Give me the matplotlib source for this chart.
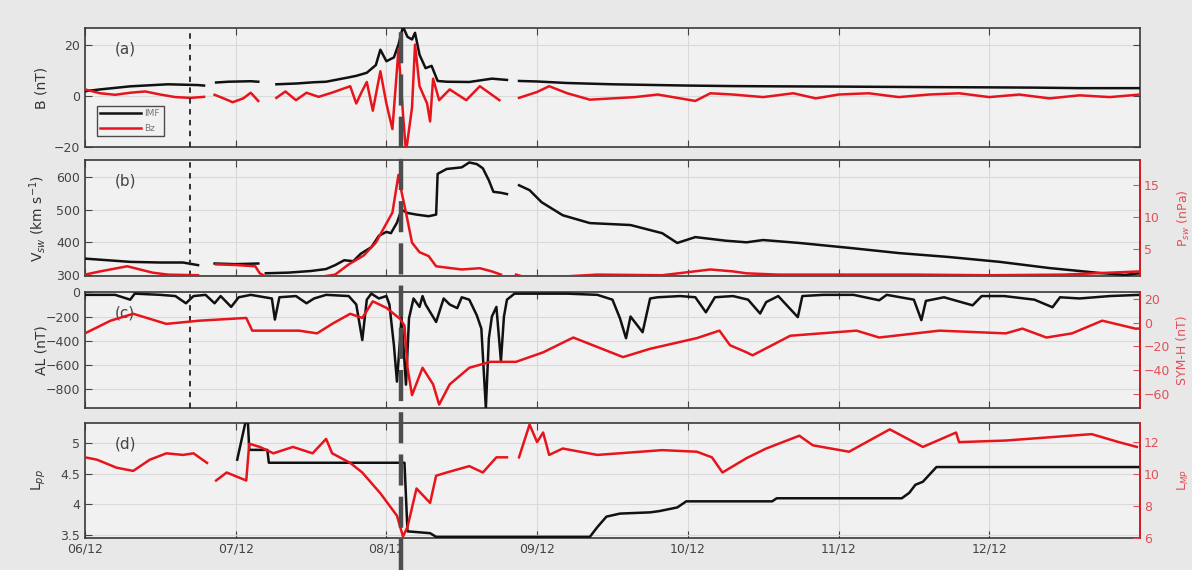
import numpy as np
import matplotlib
matplotlib.use('Agg')
import matplotlib.pyplot as plt
from matplotlib.transforms import blended_transform_factory
from matplotlib.lines import Line2D

nan = np.nan

# ---------------- data (time in days since 06/12 00:00) ----------------
day_ticks = [0, 1, 2, 3, 4, 5, 6]
day_labels = ['06/12', '07/12', '08/12', '09/12', '10/12', '11/12', '12/12']

# (a) IMF magnitude and Bz (nT)
imf_t = [0.0, 0.1, 0.3, 0.55, 0.75, 0.79, 0.8, 0.87, 0.95, 1.1, 1.15, 1.17, 1.27, 1.4, 1.52, 1.6,
         1.75, 1.8, 1.87, 1.93, 1.96, 2.0, 2.05, 2.08, 2.11, 2.14, 2.17, 2.19, 2.22, 2.26, 2.3, 2.34,
         2.4, 2.55, 2.7, 2.8, 2.83, 2.88, 3.0, 3.2, 3.5, 3.8, 4.0, 4.3, 4.6, 5.0, 5.3, 5.6, 6.0, 6.3,
         6.6, 7.0]
imf_b = [1.8, 2.5, 3.7, 4.5, 4.2, 4.0, nan, 5.2, 5.5, 5.7, 5.5, nan, 4.5, 4.8, 5.3, 5.5,
         7.2, 7.8, 9.0, 12.0, 18.0, 13.5, 15.0, 20.0, 27.0, 23.0, 22.0, 24.6, 16.0, 10.8, 11.7, 5.8,
         5.5, 5.4, 6.7, 6.2, nan, 5.8, 5.6, 5.0, 4.5, 4.2, 4.0, 3.8, 3.7, 3.6, 3.5, 3.4, 3.3, 3.2,
         3.0, 3.0]

bz_t = [0.0, 0.1, 0.2, 0.3, 0.4, 0.5, 0.6, 0.7, 0.79, 0.8, 0.86, 0.92, 0.98, 1.05, 1.1, 1.15, 1.17,
        1.27, 1.33, 1.4, 1.47, 1.55, 1.64, 1.7, 1.76, 1.8, 1.84, 1.87, 1.91, 1.96, 2.0, 2.04, 2.08,
        2.11, 2.13, 2.17, 2.19, 2.22, 2.27, 2.29, 2.31, 2.35, 2.42, 2.53, 2.62, 2.75, 2.78, 2.88,
        3.0, 3.08, 3.2, 3.35, 3.5, 3.65, 3.8, 3.95, 4.05, 4.15, 4.3, 4.5, 4.7, 4.85, 5.0, 5.2, 5.4,
        5.6, 5.8, 6.0, 6.2, 6.4, 6.6, 6.8, 7.0]
bz_v = [2.5, 1.0, 0.4, 1.2, 1.7, 0.5, -0.5, -0.8, -0.4, nan, 0.4, -1.0, -2.5, -1.0, 1.2, -2.0, nan,
        -0.8, 1.7, -1.7, 1.2, -0.4, 1.25, 2.5, 3.75, -3.0, 2.0, 5.4, -5.8, 9.6, -3.0, -13.0, 18.0,
        -7.0, -22.0, -4.6, 20.0, 3.75, -3.0, -10.0, 6.7, -1.7, 2.5, -1.7, 3.75, -1.7, nan, -0.8,
        1.5, 3.75, 1.0, -1.5, -1.0, -0.5, 0.5, -1.0, -2.0, 1.0, 0.5, -0.5, 1.0, -1.0, 0.5, 1.0, -0.5,
        0.5, 1.0, -0.5, 0.5, -1.0, 0.2, -0.5, 0.5]

# (b) solar wind speed (km/s) and dynamic pressure (nPa)
vsw_t = [0.0, 0.15, 0.3, 0.5, 0.65, 0.75, 0.78, 0.86, 1.0, 1.15, 1.17, 1.2, 1.35, 1.5, 1.6, 1.66,
         1.72, 1.78, 1.83, 1.9, 1.95, 2.0, 2.03, 2.07, 2.1, 2.14, 2.2, 2.28, 2.33, 2.34, 2.4, 2.5,
         2.55, 2.6, 2.64, 2.68, 2.71, 2.76, 2.8, 2.83, 2.88, 2.95, 3.03, 3.17, 3.35, 3.62, 3.83,
         3.93, 4.05, 4.25, 4.39, 4.5, 4.74, 5.07, 5.4, 5.73, 6.07, 6.4, 6.73, 6.9, 7.0]
vsw_v = [350, 345, 340, 338, 338, 330, nan, 335, 333, 335, nan, 305, 307, 312, 318, 330,
         345, 342, 365, 385, 420, 432, 428, 460, 500, 490, 485, 480, 485, 610, 625, 630,
         645, 640, 627, 590, 555, 552, 548, nan, 575, 560, 523, 483, 459, 453, 428,
         398, 416, 405, 400, 407, 398, 383, 367, 355, 340, 321, 306, 300, 305]

psw_t = [0.0, 0.1, 0.28, 0.45, 0.55, 0.75, 0.78, 0.87, 1.0, 1.13, 1.16, 1.2, 1.4, 1.55, 1.66, 1.75,
         1.85, 1.93, 2.0, 2.04, 2.08, 2.1, 2.13, 2.17, 2.22, 2.28, 2.33, 2.5, 2.62, 2.7, 2.76, 2.8,
         2.86, 2.95, 3.4, 3.83, 4.15, 4.3, 4.39, 4.6, 5.0, 5.5, 6.0, 6.5, 6.8, 7.0]
psw_v = [1.0, 1.5, 2.3, 1.3, 1.0, 0.9, nan, 2.6, 2.5, 2.3, 1.2, 0.7, 0.6, 0.6, 1.0, 2.6,
         4.0, 6.0, 9.0, 10.7, 16.6, 14.0, 10.7, 6.0, 4.5, 3.9, 2.3, 1.8, 2.0, 1.5, 1.0, nan,
         1.0, 0.4, 1.0, 0.9, 1.8, 1.5, 1.2, 1.0, 1.0, 1.0, 0.9, 1.0, 1.3, 1.5]

# (c) AL (nT) and SYM-H (nT)
al_t = [0.0, 0.2, 0.3, 0.33, 0.5, 0.6, 0.67, 0.72, 0.8, 0.86, 0.9, 0.97, 1.02, 1.1, 1.24, 1.26,
        1.29, 1.4, 1.47, 1.52, 1.6, 1.75, 1.8, 1.84, 1.87, 1.9, 1.95, 2.0, 2.02, 2.05, 2.07, 2.09,
        2.1, 2.13, 2.15, 2.18, 2.22, 2.24, 2.26, 2.33, 2.38, 2.42, 2.47, 2.5, 2.55, 2.6, 2.63,
        2.66, 2.68, 2.7, 2.73, 2.76, 2.78, 2.8, 2.85, 3.0, 3.2, 3.4, 3.5, 3.55, 3.59, 3.62, 3.7,
        3.75, 3.8, 3.95, 4.05, 4.12, 4.18, 4.3, 4.4, 4.48, 4.52, 4.6, 4.73, 4.76, 4.9, 5.1, 5.27,
        5.32, 5.5, 5.55, 5.58, 5.7, 5.89, 5.95, 6.1, 6.3, 6.42, 6.47, 6.6, 6.8, 7.0]
al_v = [-20, -20, -60, -10, -20, -30, -90, -30, -20, -90, -30, -120, -40, -20, -50, -225,
        -40, -30, -90, -50, -20, -30, -100, -395, -60, -10, -50, -30, -100, -440, -740, -400,
        -200, -765, -215, -50, -120, -30, -100, -245, -50, -100, -130, -40, -60, -190, -300,
        -960, -380, -200, -120, -570, -200, -60, -10, -10, -10, -20, -60, -215, -380, -200, -330,
        -50, -40, -30, -40, -165, -40, -30, -60, -175, -80, -30, -205, -30, -20, -20, -65,
        -20, -60, -230, -70, -40, -107, -30, -30, -60, -123, -40, -50, -30, -20]

symh_t = [0.0, 0.17, 0.32, 0.54, 0.76, 1.07, 1.11, 1.42, 1.54, 1.64, 1.76, 1.84, 1.91, 2.0, 2.09,
          2.12, 2.14, 2.17, 2.24, 2.31, 2.35, 2.42, 2.55, 2.69, 2.86, 3.04, 3.24, 3.57, 3.75, 4.06,
          4.21, 4.28, 4.39, 4.43, 4.68, 5.12, 5.27, 5.67, 6.11, 6.22, 6.38, 6.55, 6.75, 6.97, 7.0]
symh_v = [-9, 1.7, 7.5, -1, 1.7, 4, -6.7, -6.7, -9, -1, 7.5, 4, 18, 12.5, 3.3,
          -2.5, -38, -61, -38, -52, -69, -52, -38, -33, -33, -25, -12.5, -29, -22, -13,
          -6.7, -19, -25, -27.5, -11, -6.7, -12.5, -6.7, -9, -5, -12.5, -9, 1.7, -5, -5]

# (d) plasmapause Lpp and magnetopause Lmp
lmp_t = [0.0, 0.08, 0.21, 0.32, 0.43, 0.54, 0.65, 0.72, 0.81, 0.84, 0.87, 0.94, 1.07, 1.09, 1.16,
         1.25, 1.38, 1.51, 1.60, 1.64, 1.76, 1.84, 1.96, 2.07, 2.11, 2.14, 2.20, 2.29, 2.33, 2.40,
         2.55, 2.64, 2.73, 2.80, 2.84, 2.88, 2.95, 3.0, 3.04, 3.08, 3.17, 3.40, 3.83, 4.06, 4.16,
         4.23, 4.39, 4.52, 4.74, 4.83, 5.07, 5.34, 5.56, 5.78, 5.80, 6.11, 6.68, 6.86, 6.98]
lmp_v = [11.05, 10.9, 10.4, 10.2, 10.9, 11.3, 11.2, 11.3, 10.7, nan, 9.6, 10.1, 9.6, 11.9, 11.7,
         11.3, 11.7, 11.3, 12.2, 11.3, 10.7, 10.1, 8.8, 7.4, 6.1, 6.7, 9.1, 8.2, 9.9, 10.1,
         10.5, 10.1, 11.05, 11.05, nan, 11.05, 13.1, 12.0, 12.6, 11.2, 11.6, 11.2, 11.5, 11.4, 11.05,
         10.1, 11.0, 11.6, 12.4, 11.8, 11.4, 12.8, 11.7, 12.6, 12.0, 12.1, 12.5, 12.0, 11.7]

lpp_t = [1.01, 1.07, 1.08, 1.09, 1.21, 1.22, 2.12, 2.14, 2.29, 2.33, 3.35, 3.40, 3.46, 3.55, 3.75,
         3.81, 3.93, 3.99, 4.56, 4.59, 5.42, 5.47, 5.51, 5.56, 5.65, 7.0]
lpp_v = [4.73, 5.4, 5.4, 4.89, 4.89, 4.68, 4.68, 3.56, 3.53, 3.47, 3.47, 3.63, 3.8, 3.85, 3.87,
         3.89, 3.95, 4.05, 4.05, 4.1, 4.1, 4.19, 4.32, 4.37, 4.61, 4.61]

onset_day = 0.70      # thin dashed marker
storm_day = 2.10      # thick grey dashed marker

# ---------------- styling ----------------
BLACK = '#111111'
RED = '#e8141c'
RED_TXT = '#e0505a'
SPINE = '#3a3a3a'
GRID = '#d9d9d9'
LW = 1.8

plt.rcParams['font.family'] = ['DejaVu Sans']
plt.rcParams['font.size'] = 9

fig = plt.figure(figsize=(11.92, 5.70), dpi=100, facecolor='#e8e8e8')
L, W = 0.0713, 0.885
rects = [[L, 0.742, W, 0.209],
         [L, 0.516, W, 0.203],
         [L, 0.284, W, 0.204],
         [L, 0.056, W, 0.202]]
axes = [fig.add_axes(r) for r in rects]
for ax in axes:
    ax.set_facecolor('#f1f1f1')
    ax.set_xlim(0, 7)
    ax.set_xticks(day_ticks)
    ax.grid(True, color=GRID, lw=0.8)
    ax.set_axisbelow(True)
    for s in ax.spines.values():
        s.set_color(SPINE)
        s.set_linewidth(1.2)
    ax.tick_params(direction='in', top=True, length=5, colors='#444444', labelsize=9)
for ax in axes[:3]:
    ax.tick_params(labelbottom=False)
axes[3].set_xticklabels(day_labels)

def twin(ax, lo, hi, ticks, label):
    t = ax.twinx()
    t.set_ylim(lo, hi)
    t.set_yticks(ticks)
    t.tick_params(direction='in', length=5, colors=RED_TXT, labelsize=9, pad=3)
    t.spines['right'].set_color(RED)
    t.spines['right'].set_linewidth(1.2)
    t.spines['left'].set_visible(False)
    t.spines['top'].set_visible(False)
    t.spines['bottom'].set_visible(False)
    t.set_ylabel(label, color=RED_TXT, fontsize=9)
    return t

# (a)
ax = axes[0]
ax.plot(imf_t, imf_b, color=BLACK, lw=LW, label='IMF', zorder=3)
ax.plot(bz_t, bz_v, color=RED, lw=LW, label='Bz', zorder=4)
ax.set_ylim(-20, 26.5)
ax.set_yticks([-20, 0, 20])
ax.tick_params(right=True)
ax.set_ylabel('B (nT)', fontsize=10, color='#333333')
leg = ax.legend(loc='lower left', bbox_to_anchor=(0.011, 0.09), fontsize=6.5, handlelength=4.5,
                frameon=True, fancybox=False, borderaxespad=0, handletextpad=0.4,
                borderpad=0.4, labelspacing=0.6)
leg.get_frame().set_edgecolor('#222222')
leg.get_frame().set_facecolor('#f1f1f1')
leg.get_frame().set_linewidth(1.0)
for t in leg.get_texts():
    t.set_color('#777777')

# (b)
ax = axes[1]
ax.plot(vsw_t, vsw_v, color=BLACK, lw=LW, zorder=3)
ax.set_ylim(297, 652)
ax.set_yticks([300, 400, 500, 600])
ax.set_ylabel('V$_{sw}$ (km s$^{-1}$)', fontsize=10, color='#333333')
tb = twin(ax, 0.8, 18.9, [5, 10, 15], 'P$_{sw}$ (nPa)')
tb.plot(psw_t, psw_v, color=RED, lw=LW, zorder=4)

# (c)
ax = axes[2]
ax.plot(al_t, al_v, color=BLACK, lw=LW, zorder=3)
ax.set_ylim(-960, 5)
ax.set_yticks([-800, -600, -400, -200, 0])
ax.set_ylabel('AL (nT)', fontsize=10, color='#333333')
tc = twin(ax, -72, 26, [-60, -40, -20, 0, 20], 'SYM-H (nT)')
tc.plot(symh_t, symh_v, color=RED, lw=LW, zorder=4)

# (d)
ax = axes[3]
ax.plot(lpp_t, lpp_v, color=BLACK, lw=LW, zorder=3)
ax.set_ylim(3.45, 5.33)
ax.set_yticks([3.5, 4, 4.5, 5])
ax.set_yticklabels(['3.5', '4', '4.5', '5'])
ax.set_ylabel('L$_{pp}$', fontsize=10, color='#333333')
td = twin(ax, 6.0, 13.2, [6, 8, 10, 12], 'L$_{MP}$')
td.plot(lmp_t, lmp_v, color=RED, lw=LW, zorder=4)

# panel labels
for ax, lab in zip(axes, ['(a)', '(b)', '(c)', '(d)']):
    ax.text(0.028, 0.82, lab, transform=ax.transAxes, fontsize=11, color='#444444',
            va='center', ha='left', zorder=6)

# thin dashed marker in panels a-c
for ax in axes[:3]:
    ax.axvline(onset_day, color='#222222', lw=1.3, ls=(0, (3, 3)), zorder=5)

# thick grey dashed marker spanning all panels
trans = blended_transform_factory(axes[3].transData, fig.transFigure)
fig.add_artist(Line2D([storm_day, storm_day], [0.0, 0.951], transform=trans,
                      color='#4d4d4d', lw=3.2, ls=(0, (7, 2.5)), zorder=10))

for ax in axes:
    ax.yaxis.set_label_coords(-0.035, 0.5)
for t in [tb, tc, td]:
    t.yaxis.set_label_coords(1.034, 0.5)

fig.savefig('out.png', dpi=100, facecolor=fig.get_facecolor())
